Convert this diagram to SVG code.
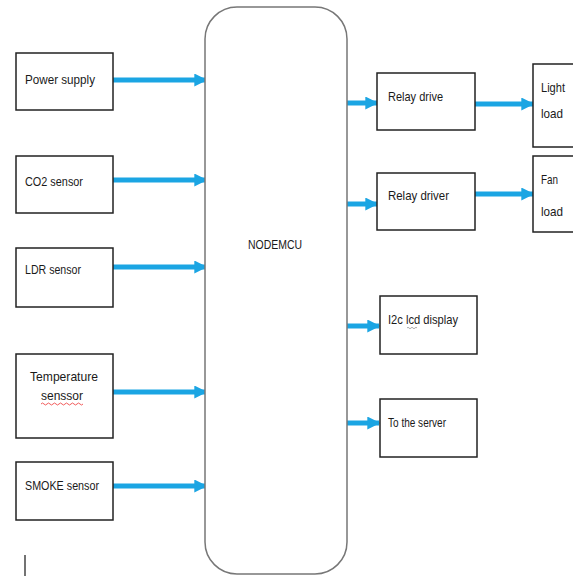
<svg xmlns="http://www.w3.org/2000/svg" width="573" height="576" viewBox="0 0 573 576">
<style>
.box{fill:#fff;stroke:#222;stroke-width:1.5}
.mcu{fill:#fff;stroke:#777;stroke-width:1.5}
.t{font-family:"Liberation Sans",Arial,sans-serif;font-size:13px;fill:#1a1a1a}
.arr{stroke:#1ba5e3;stroke-width:5;fill:none;marker-end:url(#ah)}
</style>
<defs>
<marker id="ah" viewBox="0 0 10 10" refX="9" refY="5" markerWidth="3" markerHeight="2.6" orient="auto" markerUnits="strokeWidth">
<path d="M0,0 L10,5 L0,10 z" fill="#1ba5e3"/>
</marker>
</defs>
<rect width="573" height="576" fill="#fff"/>
<g id="connectors">
<line class="arr" x1="113" y1="80" x2="206" y2="80"/>
<line class="arr" x1="113" y1="180" x2="206" y2="180"/>
<line class="arr" x1="113" y1="267" x2="206" y2="267"/>
<line class="arr" x1="113" y1="392" x2="206" y2="392"/>
<line class="arr" x1="113" y1="486" x2="206" y2="486"/>
<line class="arr" x1="347" y1="103" x2="377" y2="103"/>
<line class="arr" x1="347" y1="204" x2="377" y2="204"/>
<line class="arr" x1="347" y1="326" x2="379" y2="326"/>
<line class="arr" x1="347" y1="423" x2="379" y2="423"/>
<line class="arr" x1="475" y1="104" x2="533" y2="104"/>
<line class="arr" x1="475" y1="194" x2="533" y2="194"/>
</g>
<g id="nodemcu">
<rect class="mcu" x="205" y="7" width="142" height="567" rx="32" ry="32"/>
<text class="t" x="248" y="249" textLength="54" lengthAdjust="spacingAndGlyphs">NODEMCU</text>
</g>
<g id="power">
<rect class="box" x="16" y="53" width="97" height="57"/>
<text class="t" x="25" y="84" textLength="70" lengthAdjust="spacingAndGlyphs">Power supply</text>
</g>
<g id="co2">
<rect class="box" x="16" y="156" width="97" height="57"/>
<text class="t" x="25" y="186" textLength="58" lengthAdjust="spacingAndGlyphs">CO2 sensor</text>
</g>
<g id="ldr">
<rect class="box" x="16" y="248" width="97" height="59"/>
<text class="t" x="25" y="274" textLength="56" lengthAdjust="spacingAndGlyphs">LDR sensor</text>
</g>
<g id="temp">
<rect class="box" x="16" y="354" width="97" height="84"/>
<text class="t" x="30" y="381" textLength="68" lengthAdjust="spacingAndGlyphs">Temperature</text>
<text class="t" x="41" y="400" textLength="42" lengthAdjust="spacingAndGlyphs">senssor</text>
<path d="M41,404 q1.5,-2 3,0 t3,0 t3,0 t3,0 t3,0 t3,0 t3,0 t3,0 t3,0 t3,0 t3,0 t3,0 t3,0 t3,0" fill="none" stroke="#e33" stroke-width="0.8"/>
</g>
<g id="smoke">
<rect class="box" x="16" y="462" width="97" height="58"/>
<text class="t" x="25" y="490" textLength="74" lengthAdjust="spacingAndGlyphs">SMOKE sensor</text>
</g>
<g id="relay1">
<rect class="box" x="377" y="73" width="98" height="57"/>
<text class="t" x="388" y="101" textLength="55" lengthAdjust="spacingAndGlyphs">Relay drive</text>
</g>
<g id="relay2">
<rect class="box" x="377" y="173" width="98" height="57"/>
<text class="t" x="388" y="200" textLength="61" lengthAdjust="spacingAndGlyphs">Relay driver</text>
</g>
<g id="lcd">
<rect class="box" x="380" y="296" width="97" height="58"/>
<text class="t" x="388" y="324" textLength="70" lengthAdjust="spacingAndGlyphs">I2c lcd display</text>
<path d="M407,328 q1,-1.5 2,0 t2,0 t2,0 t2,0 t2,0" fill="none" stroke="#888" stroke-width="0.7"/>
</g>
<g id="server">
<rect class="box" x="380" y="399" width="97" height="58"/>
<text class="t" x="388" y="427" textLength="58" lengthAdjust="spacingAndGlyphs">To the server</text>
</g>
<g id="light">
<rect class="box" x="533" y="64" width="45" height="83"/>
<text class="t" x="541" y="92" textLength="24" lengthAdjust="spacingAndGlyphs">Light</text>
<text class="t" x="541" y="118" textLength="22" lengthAdjust="spacingAndGlyphs">load</text>
</g>
<g id="fan">
<rect class="box" x="533" y="156" width="45" height="76"/>
<text class="t" x="541" y="184" textLength="17" lengthAdjust="spacingAndGlyphs">Fan</text>
<text class="t" x="541" y="216" textLength="22" lengthAdjust="spacingAndGlyphs">load</text>
</g>
<line x1="25" y1="555" x2="25" y2="576" stroke="#444" stroke-width="1.5"/>
</svg>
